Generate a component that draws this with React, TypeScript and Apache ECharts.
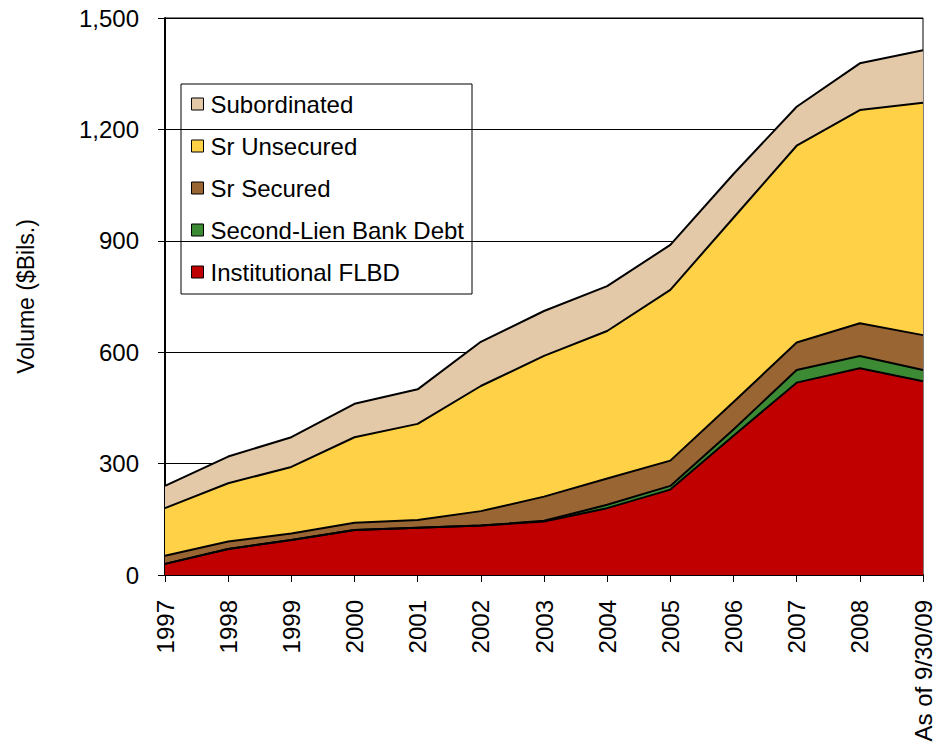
import React, { useEffect, useRef } from "react";
import * as echarts from "echarts";

const categories = ["1997", "1998", "1999", "2000", "2001", "2002", "2003", "2004", "2005", "2006", "2007", "2008", "As of 9/30/09"];
const institutionalFLBD = [30, 70, 94, 121, 127, 133, 144, 180, 230, 375, 518, 557, 522];
const secondLien = [0, 0, 0, 0, 0, 0, 2, 9, 10, 17, 34, 33, 30];
const srSecured = [22, 20, 18, 20, 21, 39, 65, 71, 68, 74, 74, 88, 94];
const srUnsecured = [128, 157, 179, 230, 259, 337, 379, 397, 460, 496, 530, 574, 626];
const subordinated = [60, 72, 80, 90, 93, 119, 121, 121, 121, 118, 105, 126, 141];
const yTicks = [0, 300, 600, 900, 1200, 1500];

const FONT = "'Liberation Sans', Arial, sans-serif";

export default function App() {
  const ref = useRef<HTMLDivElement>(null);
  useEffect(() => {
    if (!ref.current) return;
    const chart = echarts.init(ref.current, null, { renderer: "svg" });
    const mk = (name: string, data: number[], color: string) => ({
      name,
      type: "line",
      stack: "total",
      data,
      symbol: "none",
      lineStyle: { color: "#000", width: 2 },
      itemStyle: { color },
      areaStyle: { color, opacity: 1 },
      z: 2,
    });
    chart.setOption({
      animation: false,
      textStyle: { fontFamily: FONT },
      grid: {
        left: 165,
        right: 13,
        top: 18,
        bottom: 175,
        show: true,
        borderColor: "#000",
        borderWidth: 1,
        outerBoundsMode: "none",
        containLabel: false,
      },
      legend: {
        orient: "vertical",
        left: 181,
        top: 84,
        data: ["Subordinated", "Sr Unsecured", "Sr Secured", "Second-Lien Bank Debt", "Institutional FLBD"],
        icon: "rect",
        itemWidth: 12,
        itemHeight: 12,
        itemGap: 18,
        padding: [8, 8, 10, 10],
        borderColor: "#000",
        borderWidth: 1,
        backgroundColor: "transparent",
        itemStyle: { borderColor: "#000", borderWidth: 1 },
        textStyle: { fontFamily: FONT, fontSize: 24, color: "#000", padding: [0, 0, 0, 2] },
      },
      xAxis: {
        type: "category",
        data: categories,
        boundaryGap: false,
        axisLine: { lineStyle: { color: "#000", width: 2 } },
        axisTick: { show: true, length: 7, lineStyle: { color: "#000" } },
        axisLabel: {
          rotate: 90,
          margin: 25,
          fontSize: 24,
          lineHeight: 16,
          color: "#000",
          fontFamily: FONT,
          interval: 0,
        },
        splitLine: { show: false },
      },
      yAxis: {
        type: "value",
        min: yTicks[0],
        max: yTicks[yTicks.length - 1],
        interval: yTicks[1] - yTicks[0],
        name: "Volume ($Bils.)",
        nameLocation: "middle",
        nameRotate: 90,
        nameGap: 128,
        nameTextStyle: { fontSize: 23, color: "#000", fontFamily: FONT },
        axisLine: { show: true, lineStyle: { color: "#000", width: 2 } },
        axisTick: { show: true, length: 7, lineStyle: { color: "#000" } },
        axisLabel: {
          margin: 26,
          fontSize: 24,
          color: "#000",
          fontFamily: FONT,
          formatter: (v: number) => v.toLocaleString("en-US"),
        },
        splitLine: { show: true, lineStyle: { color: "#000", width: 1 } },
      },
      series: [
        mk("Institutional FLBD", institutionalFLBD, "#C00000"),
        mk("Second-Lien Bank Debt", secondLien, "#3D8A35"),
        mk("Sr Secured", srSecured, "#996633"),
        mk("Sr Unsecured", srUnsecured, "#FFD147"),
        mk("Subordinated", subordinated, "#E3C9A8"),
      ],
    });
    return () => chart.dispose();
  }, []);
  return <div ref={ref} style={{ position: "absolute", left: 0, top: 0, width: 936, height: 750 }} />;
}
